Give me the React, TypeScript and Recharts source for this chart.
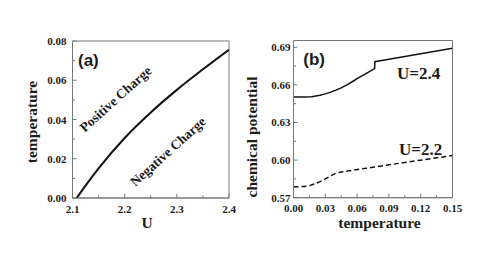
import React from 'react'
import { LineChart, Line, XAxis, YAxis, ReferenceArea } from 'recharts'

// panel (a): critical temperature vs U
const uValues = [2.108, 2.125, 2.15, 2.2, 2.25, 2.3, 2.35, 2.4]
const tcValues = [0, 0.0063, 0.0151, 0.0306, 0.0436, 0.0551, 0.0656, 0.0756]
const aXTicks = [2.1, 2.2, 2.3, 2.4]
const aXMinor = [2.15, 2.25, 2.35]
const aYTicks = [0, 0.02, 0.04, 0.06, 0.08]
const aYMinor = [0.01, 0.03, 0.05, 0.07]

// panel (b): chemical potential vs temperature
const tU24 = [0, 0.01, 0.017, 0.025, 0.03, 0.035, 0.04, 0.045, 0.05, 0.055, 0.06, 0.065, 0.07, 0.0765, 0.0768, 0.09, 0.105, 0.12, 0.135, 0.15]
const muU24 = [0.6503, 0.6503, 0.6506, 0.6517, 0.6528, 0.6542, 0.6558, 0.6576, 0.6598, 0.6623, 0.665, 0.6674, 0.6698, 0.673, 0.6785, 0.6804, 0.6826, 0.6848, 0.687, 0.6892]
const tU22 = [0, 0.01, 0.015, 0.02, 0.025, 0.03, 0.035, 0.041, 0.045, 0.075, 0.105, 0.135, 0.15]
const muU22 = [0.5787, 0.5789, 0.5796, 0.581, 0.5828, 0.585, 0.5874, 0.59, 0.5905, 0.5943, 0.5981, 0.6018, 0.6036]
const bXTicks = [0, 0.03, 0.06, 0.09, 0.12, 0.15]
const bXMinor = [0.015, 0.045, 0.075, 0.105, 0.135]
const bYTicks = [0.57, 0.6, 0.63, 0.66, 0.69]
const bYMinor = [0.585, 0.615, 0.645, 0.675]

const phaseData = uValues.map((u, i) => ({ u, t: tcValues[i] }))
const u24Data = tU24.map((t, i) => ({ t, mu: muU24[i] }))
const u22Data = tU22.map((t, i) => ({ t, mu: muU22[i] }))

const axisColor = '#777'
const ink = '#1c1c1c'
const serif = '"Liberation Serif", "Times New Roman", serif'
const sans = '"Liberation Sans", Arial, sans-serif'

const isMajor = (majors: number[], v: number) => majors.some(m => Math.abs(m - v) < 1e-9)
const byValue = (a: number, b: number) => a - b

const yTick = (majors: number[], gap: number) => (props: any) => {
  const { x, y, payload } = props
  const major = isMajor(majors, payload.value)
  return (
    <g>
      <line x1={x} x2={x + (major ? 4 : 2.5)} y1={y} y2={y} stroke={axisColor} />
      {major && (
        <text x={x - gap} y={y} textAnchor="end" dominantBaseline="central"
          fontFamily={serif} fontWeight="bold" fontSize={11} fill={ink}>
          {payload.value.toFixed(2)}
        </text>
      )}
    </g>
  )
}

const xTick = (majors: number[], gap: number, digits: number) => (props: any) => {
  const { x, y, payload } = props
  const major = isMajor(majors, payload.value)
  return (
    <g>
      <line x1={x} x2={x} y1={y} y2={y - (major ? 4 : 2.5)} stroke={axisColor} />
      {major && (
        <text x={x} y={y + gap} textAnchor="middle" dominantBaseline="central"
          fontFamily={serif} fontWeight="bold" fontSize={11} fill={ink}>
          {payload.value.toFixed(digits)}
        </text>
      )}
    </g>
  )
}

const textStyle = { fontFamily: serif, fontWeight: 'bold' as const, fill: ink }

export default function App() {
  return (
    <div style={{ position: 'absolute', left: 0, top: 0, width: 496, height: 273, background: '#fff' }}>
      <div style={{ position: 'absolute', left: 0, top: 0 }}>
        <LineChart width={240} height={273} margin={{ top: 41, right: 11, left: 0, bottom: 0 }}>
          <XAxis type="number" dataKey="u" domain={[2.1, 2.4]} allowDataOverflow
            ticks={[...aXTicks, ...aXMinor].sort(byValue)} interval={0} height={75}
            tickLine={false} tickSize={0} tickMargin={0} stroke={axisColor}
            tick={xTick(aXTicks, 11, 1)} />
          <YAxis type="number" domain={[0, 0.08]} allowDataOverflow
            ticks={[...aYTicks, ...aYMinor].sort(byValue)} interval={0} width={72.5}
            tickLine={false} tickSize={0} tickMargin={0} stroke={axisColor}
            tick={yTick(aYTicks, 6)} />
          <ReferenceArea x1={2.1} x2={2.4} y1={0} y2={0.08} fill="none" stroke={axisColor} strokeWidth={1} />
          <Line data={phaseData} dataKey="t" type="monotone" stroke="#111" strokeWidth={2}
            dot={false} isAnimationActive={false} />
        </LineChart>
      </div>
      <div style={{ position: 'absolute', left: 240, top: 0 }}>
        <LineChart width={240} height={273} margin={{ top: 40.5, right: 27.5, left: 0, bottom: 0 }}>
          <XAxis type="number" dataKey="t" domain={[0, 0.15]} allowDataOverflow
            ticks={[...bXTicks, ...bXMinor].sort(byValue)} interval={0} height={75.3}
            tickLine={false} tickSize={0} tickMargin={0} stroke={axisColor}
            tick={xTick(bXTicks, 10.5, 2)} />
          <YAxis type="number" domain={[0.57, 0.6954]} allowDataOverflow
            ticks={[...bYTicks, ...bYMinor].sort(byValue)} interval={0} width={53.5}
            tickLine={false} tickSize={0} tickMargin={0} stroke={axisColor}
            tick={yTick(bYTicks, 3)} />
          <ReferenceArea x1={0} x2={0.15} y1={0.57} y2={0.6954} fill="none" stroke={axisColor} strokeWidth={1} />
          <Line data={u24Data} dataKey="mu" type="linear" stroke="#111" strokeWidth={1.5}
            dot={false} isAnimationActive={false} />
          <Line data={u22Data} dataKey="mu" type="linear" stroke="#111" strokeWidth={1.5}
            strokeDasharray="5 3" dot={false} isAnimationActive={false} />
        </LineChart>
      </div>
      <svg width={496} height={273} style={{ position: 'absolute', left: 0, top: 0, pointerEvents: 'none' }}>
        <text x={31.5} y={122} transform="rotate(-90 31.5 122)" textAnchor="middle" dominantBaseline="central"
          fontSize={15.5} {...textStyle}>temperature</text>
        <text x={147} y={222} textAnchor="middle" dominantBaseline="central" fontSize={15.5} {...textStyle}>U</text>
        <text x={78} y={60} dominantBaseline="central" fontFamily={sans} fontWeight="bold" fontSize={17} fill={ink}>(a)</text>
        <text x={115.5} y={99} transform="rotate(-42 115.5 99)" textAnchor="middle" dominantBaseline="central"
          fontSize={13.5} {...textStyle}>Positive Charge</text>
        <text x={168} y={151.5} transform="rotate(-42 168 151.5)" textAnchor="middle" dominantBaseline="central"
          fontSize={13.5} {...textStyle}>Negative Charge</text>

        <text x={251.3} y={137} transform="rotate(-90 251.3 137)" textAnchor="middle" dominantBaseline="central"
          fontSize={15.5} {...textStyle}>chemical potential</text>
        <text x={379.5} y={222.5} textAnchor="middle" dominantBaseline="central" fontSize={15.5} {...textStyle}>temperature</text>
        <text x={303.3} y={59.3} dominantBaseline="central" fontFamily={sans} fontWeight="bold" fontSize={17} fill={ink}>(b)</text>
        <text x={397} y={73.5} dominantBaseline="central" fontSize={17} {...textStyle}>U=2.4</text>
        <text x={399} y={149} dominantBaseline="central" fontSize={17} {...textStyle}>U=2.2</text>
      </svg>
    </div>
  )
}
